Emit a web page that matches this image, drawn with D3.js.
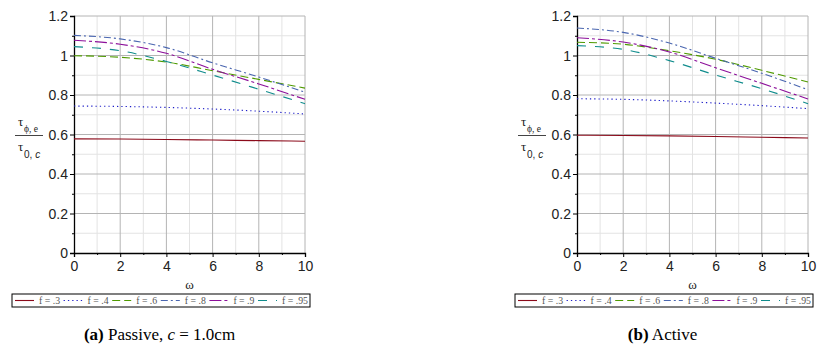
<!DOCTYPE html>
<html><head><meta charset="utf-8">
<script src="https://cdn.jsdelivr.net/npm/d3@7"></script>
<style>body{margin:0;background:#fff}</style>
</head><body>
<svg id="c" width="826" height="347"></svg>
<script>
const omega = [0, 2, 4, 6, 8, 10];
const seriesNames = ["f = .3", "f = .4", "f = .6", "f = .8", "f = .9", "f = .95"];
const xTicks = [0, 2, 4, 6, 8, 10];
const yTicks = [0, 0.2, 0.4, 0.6, 0.8, 1, 1.2];
const yTickLabels = ["0", "0.2", "0.4", "0.6", "0.8", "1", "1.2"];
// Passive
const passive_f3  = [0.578, 0.577, 0.575, 0.572, 0.569, 0.566];
const passive_f4  = [0.744, 0.742, 0.737, 0.729, 0.718, 0.704];
const passive_f6  = [0.999, 0.991, 0.967, 0.923, 0.879, 0.835];
const passive_f8  = [1.102, 1.084, 1.040, 0.963, 0.891, 0.814];
const passive_f9  = [1.077, 1.057, 1.011, 0.930, 0.856, 0.778];
const passive_f95 = [1.045, 1.024, 0.970, 0.901, 0.829, 0.756];
// Active
const active_f3  = [0.596, 0.595, 0.593, 0.590, 0.586, 0.582];
const active_f4  = [0.781, 0.778, 0.770, 0.759, 0.746, 0.731];
const active_f6  = [1.067, 1.057, 1.024, 0.981, 0.925, 0.866];
const active_f8  = [1.139, 1.117, 1.063, 0.986, 0.910, 0.827];
const active_f9  = [1.090, 1.068, 1.018, 0.938, 0.859, 0.780];
const active_f95 = [1.050, 1.031, 0.974, 0.901, 0.832, 0.756];

const colors = ["#8b0a1a", "#1f1fc8", "#4f9a00", "#4a66b0", "#8c0f9a", "#0f8c8c"];
const dashes = ["", "1.3,3", "8,4", "7,3,2,3", "12,3,3,3", "9,9"];

const svg = d3.select("#c");

function panel(ox, data, caption, bold) {
  const x = d3.scaleLinear().domain([0, 10]).range([ox, ox + 231]);
  const y = d3.scaleLinear().domain([0, 1.2]).range([253, 16]);
  const g = svg.append("g");
  const minorX = d3.range(1, 10, 2), minorY = d3.range(0.1, 1.2, 0.2);
  g.selectAll(".mx").data(minorX).enter().append("line")
    .attr("x1", d => x(d)).attr("x2", d => x(d)).attr("y1", y(0)).attr("y2", y(1.2))
    .attr("stroke", "#e3e3e3").attr("stroke-width", 1);
  g.selectAll(".my").data(minorY).enter().append("line")
    .attr("x1", x(0)).attr("x2", x(10)).attr("y1", d => y(d)).attr("y2", d => y(d))
    .attr("stroke", "#e3e3e3").attr("stroke-width", 1);
  g.selectAll(".gx").data(xTicks.slice(1)).enter().append("line")
    .attr("x1", d => x(d)).attr("x2", d => x(d)).attr("y1", y(0)).attr("y2", y(1.2))
    .attr("stroke", "#b4b4b4").attr("stroke-width", 1);
  g.selectAll(".gy").data(yTicks.slice(1)).enter().append("line")
    .attr("x1", x(0)).attr("x2", x(10)).attr("y1", d => y(d)).attr("y2", d => y(d))
    .attr("stroke", "#b4b4b4").attr("stroke-width", 1);
  const xa = g.append("g").attr("transform", `translate(0,${y(0)})`)
    .call(d3.axisBottom(x).tickValues(xTicks).tickSize(4).tickFormat(d3.format("d")));
  const xm = g.append("g").attr("transform", `translate(0,${y(0)})`)
    .call(d3.axisBottom(x).tickValues(minorX).tickSize(2).tickFormat(""));
  const ya = g.append("g").attr("transform", `translate(${x(0)},0)`)
    .call(d3.axisLeft(y).tickValues(yTicks).tickSize(4).tickFormat((d, i) => yTickLabels[i]));
  const ym = g.append("g").attr("transform", `translate(${x(0)},0)`)
    .call(d3.axisLeft(y).tickValues(minorY).tickSize(2).tickFormat(""));
  [xa, xm, ya, ym].forEach(a => { a.select(".domain").attr("stroke", "#000").attr("stroke-width", 1.3); a.selectAll(".tick line").attr("stroke", "#000"); });
  xm.select(".domain").remove(); ym.select(".domain").remove();
  xa.selectAll("text").attr("font-family", "Liberation Sans, Arial, sans-serif").attr("font-size", 14).attr("fill", "#222").attr("dy", "0.8em");
  ya.selectAll("text").attr("font-family", "Liberation Sans, Arial, sans-serif").attr("font-size", 14).attr("fill", "#222").attr("dy", "0.35em").attr("x", -6);
  const line = d3.line().x((d, i) => x(omega[i])).y(d => y(d)).curve(d3.curveMonotoneX);
  data.forEach((s, k) => {
    g.append("path").attr("d", line(s)).attr("fill", "none")
      .attr("stroke", colors[k]).attr("stroke-width", 1.1)
      .attr("stroke-dasharray", dashes[k] || null);
  });
  g.append("text").attr("x", x(5)).attr("y", 289).attr("text-anchor", "middle")
    .attr("font-family", "Liberation Serif, serif").attr("font-size", 13).attr("fill", "#222").text("ω");
  const lx = ox - 59;
  g.append("text").attr("x", lx + 3).attr("y", 126).attr("font-family", "Liberation Serif, serif").attr("font-size", 13).attr("fill", "#222").text("τ");
  g.append("text").attr("x", lx + 9).attr("y", 132).attr("font-family", "Liberation Serif, serif").attr("font-size", 9.5).attr("fill", "#222").text("ϕ, e");
  g.append("line").attr("x1", lx).attr("x2", lx + 28).attr("y1", 135.5).attr("y2", 135.5).attr("stroke", "#444").attr("stroke-width", 1);
  g.append("text").attr("x", lx + 3).attr("y", 151).attr("font-family", "Liberation Serif, serif").attr("font-size", 13).attr("fill", "#222").text("τ");
  g.append("text").attr("x", lx + 9).attr("y", 158).attr("font-family", "Liberation Sans, Arial, sans-serif").attr("font-size", 10).attr("fill", "#222").html("0, <tspan font-style='italic'>c</tspan>");
  const lgx = ox - 62;
  g.append("rect").attr("x", lgx).attr("y", 294).attr("width", 298).attr("height", 13)
    .attr("fill", "#fff").attr("stroke", "#000").attr("stroke-width", 1);
  seriesNames.forEach((n, k) => {
    const sx = lgx + 3 + k * 48.6;
    g.append("line").attr("x1", sx).attr("x2", sx + 19).attr("y1", 300.5).attr("y2", 300.5)
      .attr("stroke", colors[k]).attr("stroke-width", 1.1).attr("stroke-dasharray", dashes[k] || null);
    g.append("text").attr("x", sx + 24).attr("y", 304).attr("font-family", "Liberation Serif, serif")
      .attr("font-size", 9.8).attr("fill", "#555").text(n);
  });
  const cap = g.append("text").attr("x", x(5) - 30).attr("y", 340).attr("text-anchor", "middle")
    .attr("font-family", "Liberation Serif, 'Times New Roman', serif").attr("font-size", 17).attr("fill", "#000");
  cap.append("tspan").attr("font-weight", "bold").text(bold);
  cap.append("tspan").text(caption[0]);
  if (caption.length > 1) {
    cap.append("tspan").attr("font-style", "italic").text(caption[1]);
    cap.append("tspan").text(caption[2]);
  }
}

panel(74, [passive_f3, passive_f4, passive_f6, passive_f8, passive_f9, passive_f95], [" Passive, ", "c", " = 1.0cm"], "(a)");
panel(577, [active_f3, active_f4, active_f6, active_f8, active_f9, active_f95], [" Active"], "(b)");
</script>
</body></html>
